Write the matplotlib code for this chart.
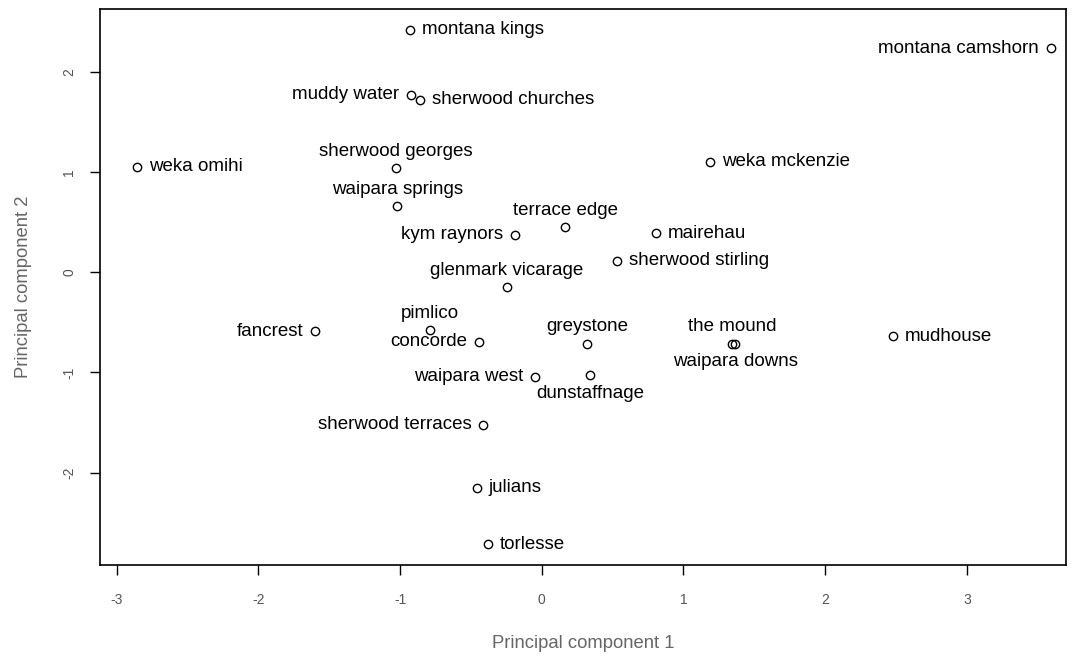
import numpy as np
import matplotlib
matplotlib.use("Agg")
import matplotlib.pyplot as plt

plt.rcParams['font.family'] = ['Liberation Sans', 'DejaVu Sans']
plt.rcParams['axes.unicode_minus'] = False

# wineries and their scores on the first two principal components
names = ["weka omihi", "montana kings", "montana camshorn", "muddy water",
         "sherwood churches", "sherwood georges", "weka mckenzie",
         "waipara springs", "terrace edge", "kym raynors", "mairehau",
         "sherwood stirling", "glenmark vicarage", "fancrest", "pimlico",
         "concorde", "greystone", "the mound", "waipara downs", "mudhouse",
         "waipara west", "dunstaffnage", "sherwood terraces", "julians",
         "torlesse"]
pc1 = [-2.859, -0.930, 3.593, -0.925, -0.859, -1.028, 1.188, -1.019, 0.164,
       -0.188, 0.805, 0.534, -0.247, -1.600, -0.788, -0.443, 0.322, 1.341,
       1.364, 2.478, -0.047, 0.341, -0.412, -0.459, -0.377]
pc2 = [1.052, 2.420, 2.238, 1.774, 1.723, 1.039, 1.104, 0.664, 0.455, 0.376,
       0.389, 0.117, -0.148, -0.588, -0.579, -0.695, -0.711, -0.711, -0.711,
       -0.638, -1.043, -1.026, -1.523, -2.152, -2.716]

# which side of the point each label sits on (like R's text pos)
side = {"montana camshorn": "left", "muddy water": "left",
        "sherwood georges": "above", "waipara springs": "above",
        "terrace edge": "above", "kym raynors": "left",
        "glenmark vicarage": "above", "fancrest": "left", "pimlico": "above",
        "concorde": "left", "greystone": "above", "the mound": "above",
        "waipara downs": "below", "waipara west": "left",
        "dunstaffnage": "below", "sherwood terraces": "left"}

fig = plt.figure(figsize=(10.77, 6.57), dpi=100)
ax = fig.add_axes([0.0929, 0.140, 0.8969, 0.846])

ax.plot(pc1, pc2, 'o', markerfacecolor='none', markeredgecolor='black',
        markersize=6, markeredgewidth=1)
ax.set_xlim(-3.118, 3.70)
ax.margins(y=0.04)

for n, x, y in zip(names, pc1, pc2):
    s = side.get(n, "right")
    if s == "right":
        off, ha, va = (8.5, 0), 'left', 'center'
    elif s == "left":
        off, ha, va = (-8.5, 0), 'right', 'center'
    elif s == "above":
        off, ha, va = (0, 12), 'center', 'center'
    else:
        off, ha, va = (0, -13), 'center', 'center'
    ax.annotate(n, (x, y), xytext=off, textcoords='offset points',
                ha=ha, va=va, fontsize=13.5, color='black')

ax.set_xticks([-3, -2, -1, 0, 1, 2, 3])
ax.set_yticks([-2, -1, 0, 1, 2])
ax.tick_params(axis='x', length=7, width=1, pad=13, labelsize=10,
               labelcolor='#555555')
ax.tick_params(axis='y', length=7, width=1, pad=10, labelsize=10,
               labelcolor='#555555', labelrotation=90)
for lab in ax.get_yticklabels():
    lab.set_va('center')
for sp in ax.spines.values():
    sp.set_linewidth(1.2)

ax.set_xlabel('Principal component 1', fontsize=13.3, color='#666666',
              labelpad=20)
ax.set_ylabel('Principal component 2', fontsize=13.3, color='#666666',
              labelpad=22)

fig.savefig('out.png', dpi=100)
